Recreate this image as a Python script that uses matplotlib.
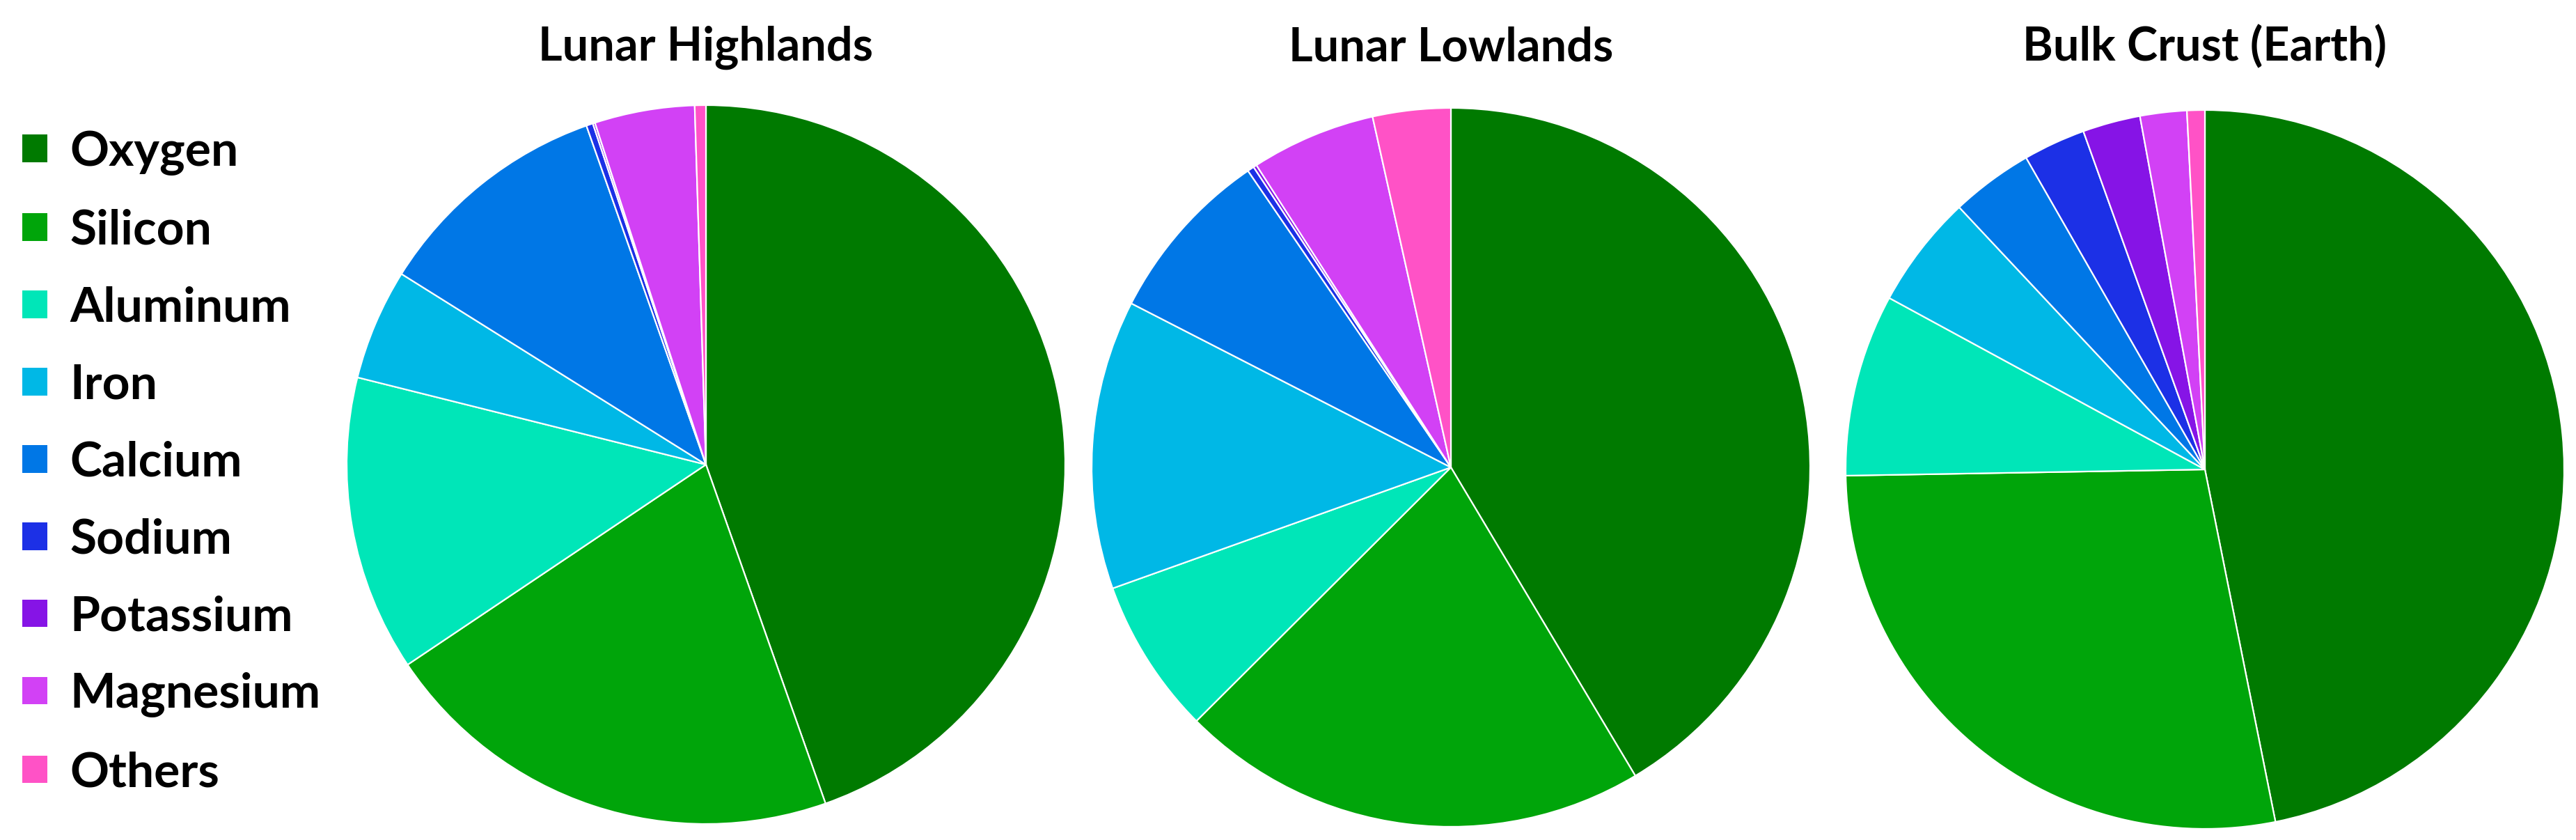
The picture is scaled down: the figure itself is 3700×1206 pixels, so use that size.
import matplotlib
matplotlib.use("Agg")
import matplotlib.pyplot as plt

plt.rcParams['font.family'] = ['Lato', 'DejaVu Sans']

elements = ["Oxygen", "Silicon", "Aluminum", "Iron", "Calcium",
            "Sodium", "Potassium", "Magnesium", "Others"]
colors = ["#007a00", "#00a50a", "#00e6b8", "#00b8e6", "#0077e6",
          "#1c30e6", "#8614e6", "#d241f5", "#ff52c6"]

titles = ["Lunar Highlands", "Lunar Lowlands", "Bulk Crust (Earth)"]

# weight percent
highlands = [44.6, 21.0, 13.3, 5.0, 10.7, 0.3, 0.1, 4.5, 0.5]
lowlands = [41.4, 21.1, 7.0, 13.0, 7.9, 0.3, 0.15, 5.6, 3.5]
earth_crust = [46.9, 27.9, 8.2, 5.1, 3.7, 2.8, 2.6, 2.1, 0.8]
datasets = [highlands, lowlands, earth_crust]

W, H = 3700, 1206
fig = plt.figure(figsize=(W / 100, H / 100), dpi=100)

# pie centres and radii in pixels
centres = [(1014, 667), (2084, 671), (3167, 674)]
radius = 516

wedge_handles = None
for (cx, cy), values, title in zip(centres, datasets, titles):
    ax = fig.add_axes([(cx - radius) / W, 1 - (cy + radius) / H,
                       2 * radius / W, 2 * radius / H])
    wedges, _ = ax.pie(values, colors=colors, startangle=90, counterclock=False,
                       radius=1, wedgeprops=dict(edgecolor="white", linewidth=1.6))
    ax.set_xlim(-1, 1)
    ax.set_ylim(-1, 1)
    ax.set_aspect("equal")
    ax.axis("off")
    fig.text(cx / W, 1 - 68 / H, title, ha="center", va="center",
             fontsize=48, fontweight="bold")
    if wedge_handles is None:
        wedge_handles = wedges

leg = fig.legend(wedge_handles, elements, loc="center left",
                 bbox_to_anchor=(32 / W, 1 - 664 / H), frameon=False,
                 prop={"weight": "bold", "size": 50},
                 handlelength=0.52, handleheight=0.5, handletextpad=0.46,
                 labelspacing=0.69, borderpad=0, borderaxespad=0)
for p in leg.get_patches():
    p.set_edgecolor("none")

fig.savefig("out.png", dpi=100, facecolor="white")
